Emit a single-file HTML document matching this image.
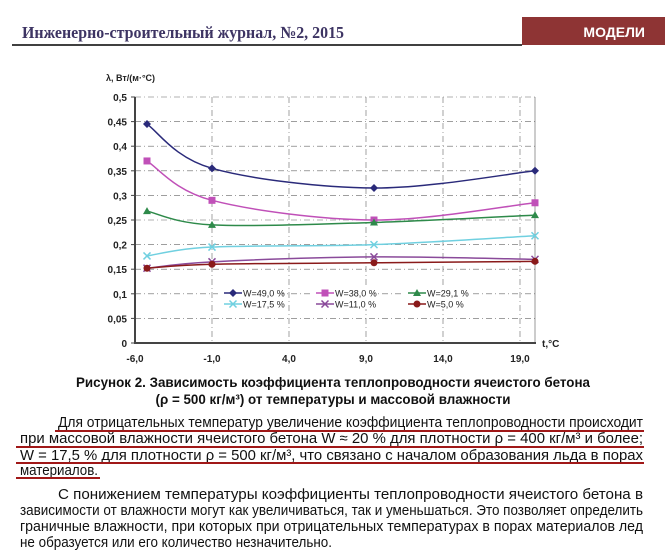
<!DOCTYPE html>
<html><head><meta charset="utf-8"><style>
body{margin:0;background:#fff;width:665px;height:554px;overflow:hidden}
svg{display:block}
</style></head><body>
<svg id="s" width="665" height="554" xmlns="http://www.w3.org/2000/svg" font-family="Liberation Sans, sans-serif">
<rect width="665" height="554" fill="#fff"/>
<text x="22" y="38" font-family="Liberation Serif, serif" font-weight="bold" font-size="17" fill="#3d3463" textLength="322" lengthAdjust="spacingAndGlyphs">Инженерно-строительный журнал, №2, 2015</text>
<line x1="12" y1="45" x2="522" y2="45" stroke="#000" stroke-width="1.5"/>
<rect x="522" y="17" width="143" height="28" fill="#8e3434"/>
<text x="645" y="37" text-anchor="end" font-weight="bold" font-size="14" fill="#fff">МОДЕЛИ</text>
<g id="chart"></g>
<g font-weight="bold" font-size="14" text-anchor="middle" fill="#111">
<text x="333" y="387" textLength="514" lengthAdjust="spacingAndGlyphs">Рисунок 2. Зависимость коэффициента теплопроводности ячеистого бетона</text>
<text x="333" y="404" textLength="355" lengthAdjust="spacingAndGlyphs">(ρ = 500 кг/м³) от температуры и массовой влажности</text>
</g>
<g font-size="15" fill="#111">
<text x="58" y="427" textLength="585" lengthAdjust="spacingAndGlyphs">Для отрицательных температур увеличение коэффициента теплопроводности происходит</text>
<text x="20" y="443" textLength="623" lengthAdjust="spacingAndGlyphs">при массовой влажности ячеистого бетона W ≈ 20 % для плотности ρ = 400 кг/м³ и более;</text>
<text x="20" y="460" textLength="623" lengthAdjust="spacingAndGlyphs">W = 17,5 % для плотности ρ = 500 кг/м³, что связано с началом образования льда в порах</text>
<text x="20" y="475" textLength="78" lengthAdjust="spacingAndGlyphs">материалов.</text>
<text x="58" y="499" textLength="585" lengthAdjust="spacingAndGlyphs">С понижением температуры коэффициенты теплопроводности ячеистого бетона в</text>
<text x="20" y="515" textLength="623" lengthAdjust="spacingAndGlyphs">зависимости от влажности могут как увеличиваться, так и уменьшаться. Это позволяет определить</text>
<text x="20" y="531" textLength="623" lengthAdjust="spacingAndGlyphs">граничные влажности, при которых при отрицательных температурах в порах материалов лед</text>
<text x="20" y="547" textLength="312" lengthAdjust="spacingAndGlyphs">не образуется или его количество незначительно.</text>
</g>
<g stroke="#a01818" stroke-width="2">
<line x1="55" y1="431" x2="644" y2="431"/>
<line x1="16" y1="447" x2="644" y2="447"/>
<line x1="16" y1="463" x2="644" y2="463"/>
<line x1="16" y1="478" x2="100" y2="478"/>
</g>
</svg>
<script>
const g=document.getElementById('chart');let h='';
const X=t=>135+(t+6)*15.4, Y=v=>343-v*492;
for(let i=1;i<=10;i++){const y=Y(i*0.05);h+=`<line x1="135" y1="${y}" x2="535" y2="${y}" stroke="#666" stroke-width="0.6" stroke-dasharray="6,3,1,3"/>`;}
[-1,4,9,14,19].forEach(t=>{h+=`<line x1="${X(t)}" y1="97" x2="${X(t)}" y2="343" stroke="#666" stroke-width="0.6" stroke-dasharray="6,3,1,3"/>`});
h+=`<line x1="535" y1="97" x2="535" y2="343" stroke="#555" stroke-width="0.6"/>`;
h+=`<line x1="135" y1="97" x2="135" y2="344" stroke="#444" stroke-width="2"/><line x1="134" y1="343" x2="536" y2="343" stroke="#444" stroke-width="2"/>`;
for(let i=0;i<=10;i++){const v=i*0.05;const s=i==0?'0':v.toFixed(2).replace(/0$/,'').replace('.',',');h+=`<text x="127" y="${Y(v)+4}" text-anchor="end" font-size="10" font-weight="bold" fill="#222">${s}</text><line x1="131" y1="${Y(v)}" x2="135" y2="${Y(v)}" stroke="#444"/>`;}
[-6,-1,4,9,14,19].forEach(t=>{h+=`<text x="${X(t)}" y="362" text-anchor="middle" font-size="10" font-weight="bold" fill="#222">${t.toFixed(1).replace('.',',')}</text>`});
h+=`<text x="542" y="347" font-size="10" font-weight="bold" fill="#222">t,°C</text>`;
h+=`<text x="106" y="81" font-size="9" font-weight="bold" fill="#222">λ, Вт/(м·°С)</text>`;
const xs=[147,212,374,535];
const S=[
['#2a2a7a',[.445,.355,.315,.35],'d'],
['#c050b8',[.37,.29,.25,.285],'s'],
['#2e8a4a',[.268,.24,.245,.26],'t'],
['#70d0e0',[.177,.195,.2,.218],'x'],
['#8a4a9a',[.152,.165,.175,.17],'x'],
['#8a1a1a',[.152,.16,.163,.166],'c']];
function path(p){let d=`M${p[0][0]},${p[0][1]}`;for(let i=0;i<p.length-1;i++){const p0=p[i-1]||p[i],p1=p[i],p2=p[i+1],p3=p[i+2]||p2;
d+=` C${p1[0]+(p2[0]-p0[0])/6},${p1[1]+(p2[1]-p0[1])/6} ${p2[0]-(p3[0]-p1[0])/6},${p2[1]-(p3[1]-p1[1])/6} ${p2[0]},${p2[1]}`;}return d;}
function mk(c,k,x,y){if(k=='d')return `<path d="M${x},${y-4}L${x+4},${y}L${x},${y+4}L${x-4},${y}Z" fill="${c}"/>`;
if(k=='s')return `<rect x="${x-3.5}" y="${y-3.5}" width="7" height="7" fill="${c}"/>`;
if(k=='t')return `<path d="M${x},${y-4}L${x+4},${y+3}L${x-4},${y+3}Z" fill="${c}"/>`;
if(k=='x')return `<path d="M${x-3.5},${y-3.5}L${x+3.5},${y+3.5}M${x+3.5},${y-3.5}L${x-3.5},${y+3.5}" stroke="${c}" stroke-width="1.5"/>`;
return `<circle cx="${x}" cy="${y}" r="3.5" fill="${c}"/>`;}
S.forEach(([c,v,k])=>{const p=v.map((a,i)=>[xs[i],Y(a)]);h+=`<path d="${path(p)}" fill="none" stroke="${c}" stroke-width="1.5"/>`;p.forEach(q=>h+=mk(c,k,q[0],q[1]));});
const L=[['W=49,0 %',0],['W=38,0 %',1],['W=29,1 %',2],['W=17,5 %',3],['W=11,0 %',4],['W=5,0 %',5]];
const lx=[224,316,408],ly=[293,304];
L.forEach(([t,i])=>{const x=lx[i%3],y=ly[Math.floor(i/3)],c=S[i][0];h+=`<rect x="${x-6}" y="${y-6}" width="${i%3==2?70:64}" height="11" fill="#fff"/><line x1="${x}" y1="${y}" x2="${x+18}" y2="${y}" stroke="${c}" stroke-width="1.5"/>`+mk(c,S[i][2],x+9,y)+`<text x="${x+19}" y="${y+3.5}" font-size="9" fill="#222">${t}</text>`;});
g.innerHTML=h;
</script>
</body></html>
